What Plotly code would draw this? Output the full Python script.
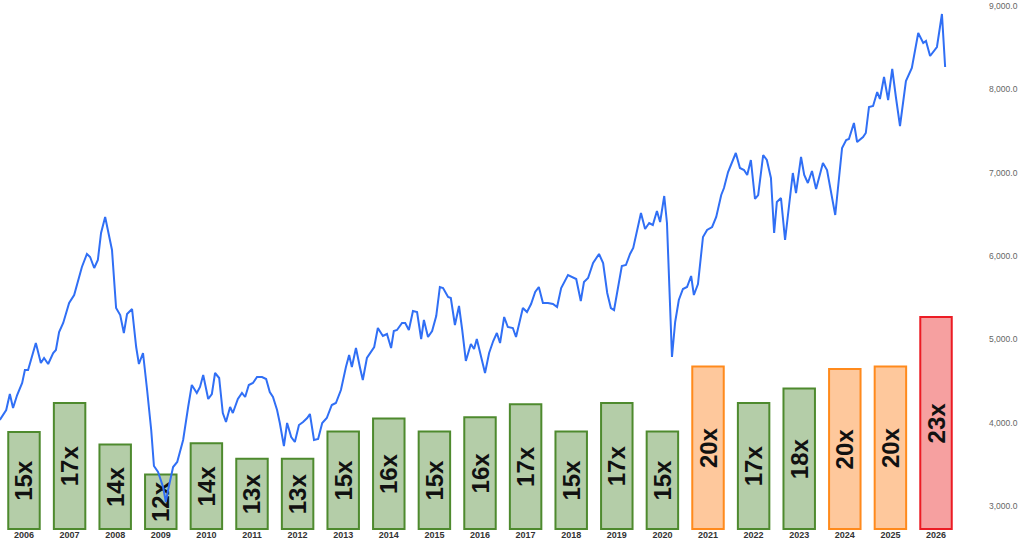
import plotly.graph_objects as go

# ---------------- data ----------------
bar_years = list(range(2006, 2027))
pe_values = [14.96, 17.2, 14.0, 11.7, 14.1, 12.9, 12.9, 15.0, 16.0, 15.0, 16.1,
             17.1, 15.0, 17.2, 15.0, 20.0, 17.2, 18.3, 19.8, 20.0, 23.8]
pe_labels = ["15x", "17x", "14x", "12x", "14x", "13x", "13x", "15x", "16x", "15x", "16x",
             "17x", "15x", "17x", "15x", "20x", "17x", "18x", "20x", "20x", "23x"]
pe_status = ["normal"] * 15 + ["high", "normal", "normal", "high", "high", "extreme"]
year_labels = [str(y) for y in bar_years]

line_years = [
    2005.47, 2005.61, 2005.69, 2005.76, 2005.85, 2005.96, 2006.02, 2006.09, 2006.26, 2006.37,
    2006.44, 2006.53, 2006.64, 2006.70, 2006.77, 2006.86, 2006.99, 2007.10, 2007.27, 2007.38,
    2007.45, 2007.54, 2007.62, 2007.69, 2007.78, 2007.93, 2008.02, 2008.11, 2008.19, 2008.26,
    2008.37, 2008.46, 2008.52, 2008.61, 2008.70, 2008.79, 2008.85, 2008.94, 2009.05, 2009.11,
    2009.16, 2009.27, 2009.36, 2009.42,
    2009.49, 2009.60, 2009.68, 2009.79, 2009.86, 2009.93, 2010.04, 2010.12, 2010.19, 2010.28,
    2010.36, 2010.43, 2010.52, 2010.58, 2010.69, 2010.78, 2010.85, 2010.93, 2011.02, 2011.11,
    2011.22, 2011.31, 2011.39, 2011.46, 2011.55, 2011.61, 2011.70, 2011.77, 2011.86, 2011.94,
    2012.03, 2012.12, 2012.21, 2012.27, 2012.36, 2012.45, 2012.54, 2012.64, 2012.75, 2012.84,
    2012.95, 2013.06, 2013.13, 2013.19, 2013.28, 2013.37, 2013.43, 2013.52, 2013.59,
    2013.68, 2013.76, 2013.87, 2013.96, 2014.05, 2014.11, 2014.18, 2014.29, 2014.36, 2014.44,
    2014.53, 2014.62, 2014.71, 2014.77, 2014.86, 2014.95, 2015.04, 2015.12, 2015.19, 2015.30,
    2015.36, 2015.45, 2015.54, 2015.61, 2015.69, 2015.80, 2015.87, 2015.93, 2016.02, 2016.11,
    2016.20, 2016.29, 2016.37, 2016.44, 2016.53, 2016.61, 2016.72, 2016.79, 2016.94, 2017.03,
    2017.12, 2017.21, 2017.29, 2017.38, 2017.49, 2017.60, 2017.69,
    2017.78, 2017.93, 2018.11, 2018.21, 2018.28, 2018.37, 2018.48, 2018.61, 2018.70, 2018.79,
    2018.87, 2018.94, 2019.03, 2019.11, 2019.20, 2019.29, 2019.36, 2019.53, 2019.62, 2019.71,
    2019.79, 2019.88, 2019.95, 2020.04, 2020.10, 2020.14, 2020.21, 2020.28, 2020.36, 2020.45,
    2020.54, 2020.63, 2020.69, 2020.78, 2020.89, 2020.98, 2021.09, 2021.18, 2021.29, 2021.35,
    2021.44, 2021.61,
    2021.70, 2021.79, 2021.86, 2021.94, 2022.03, 2022.10, 2022.21, 2022.29, 2022.38, 2022.45,
    2022.51, 2022.60, 2022.69, 2022.86, 2022.93, 2023.04, 2023.11, 2023.19, 2023.28, 2023.37,
    2023.52, 2023.61, 2023.79, 2023.94, 2024.03, 2024.09, 2024.20, 2024.27, 2024.40, 2024.46,
    2024.53, 2024.62, 2024.71, 2024.77, 2024.86, 2024.95, 2025.04, 2025.12, 2025.21, 2025.34,
    2025.39, 2025.47, 2025.61, 2025.72, 2025.78, 2025.87, 2026.02, 2026.13, 2026.20,
]
index_values = [
    4032, 4152, 4344, 4176, 4332, 4476, 4632, 4632, 4956, 4716,
    4776, 4704, 4836, 4872, 5088, 5196, 5436, 5532, 5868, 6024,
    5988, 5856, 5952, 6276, 6468, 6072, 5376, 5292, 5076, 5304,
    5364, 4908, 4704, 4836, 4392, 3912, 3480, 3408, 3228, 3048,
    3192, 3468, 3528, 3636,
    3792, 4188, 4452, 4356, 4428, 4572, 4284, 4344, 4596, 4536,
    4116, 4008, 4188, 4116, 4284, 4356, 4308, 4452, 4476, 4548,
    4548, 4524, 4368, 4308, 4152, 3996, 3720, 3996, 3828, 3768,
    3972, 4008, 4056, 4104, 3792, 3804, 3996, 4056, 4212, 4236,
    4392, 4668, 4812, 4668, 4896, 4656, 4512, 4776, 4836,
    4908, 5136, 5040, 5064, 4896, 5100, 5112, 5196, 5196, 5112,
    5340, 5328, 5004, 5232, 5028, 5100, 5280, 5628, 5616, 5508,
    5496, 5172, 5400, 5112, 4740, 4944, 4884, 5004, 4788, 4596,
    4836, 4980, 5076, 4956, 5268, 5148, 5136, 5028, 5376, 5328,
    5424, 5568, 5628, 5436, 5436, 5424, 5388,
    5616, 5772, 5724, 5460, 5688, 5736, 5916, 6024, 5916, 5556,
    5376, 5352, 5628, 5880, 5892, 6024, 6096, 6516, 6324, 6396,
    6372, 6540, 6408, 6720, 6396, 5832, 4788, 5208, 5472, 5604,
    5628, 5760, 5532, 5664, 6228, 6312, 6348, 6468, 6732, 6816,
    7008, 7236,
    7056, 7032, 6972, 7152, 6684, 6732, 7212, 7152, 6936, 6276,
    6648, 6696, 6192, 6996, 6756, 7188, 6972, 6876, 7020, 6804,
    7116, 7032, 6492, 7296, 7392, 7404, 7596, 7368, 7428, 7476,
    7788, 7800, 7968, 7884, 8148, 7872, 8244, 7908, 7560, 8100,
    8160, 8256, 8676, 8556, 8580, 8400, 8508, 8904, 8268,
]
index_ticks = [3000, 4000, 5000, 6000, 7000, 8000, 9000]

# ---------------- styles ----------------
PE_FLOOR = 7.5
fill_map = {"normal": "#b4cda8", "high": "#fec89c", "extreme": "#f6a0a0"}
edge_map = {"normal": "#4e8a2e", "high": "#ff8a1c", "extreme": "#ec1c24"}

fig = go.Figure()

fig.add_trace(go.Bar(
    x=bar_years,
    y=[p - PE_FLOOR for p in pe_values],
    base=PE_FLOOR,
    width=0.69,
    text=pe_labels,
    textposition="inside",
    insidetextanchor="middle",
    textangle=-90,
    constraintext="none",
    textfont=dict(family="Liberation Sans, Arial, sans-serif", size=24, color="#111111", weight="bold"),
    marker=dict(color=[fill_map[s] for s in pe_status],
                line=dict(color=[edge_map[s] for s in pe_status], width=2)),
    yaxis="y",
    showlegend=False,
    hoverinfo="skip",
))

fig.add_trace(go.Scatter(
    x=line_years,
    y=index_values,
    mode="lines",
    line=dict(color="#306ff5", width=2),
    yaxis="y2",
    showlegend=False,
))

fig.update_layout(
    width=1024,
    height=544,
    margin=dict(l=0, r=64, t=0, b=13),
    paper_bgcolor="white",
    plot_bgcolor="white",
    uniformtext=dict(minsize=24, mode="show"),
    xaxis=dict(
        range=[2005.474, 2026.526],
        tickvals=bar_years,
        ticktext=year_labels,
        tickfont=dict(family="Liberation Sans, Arial, sans-serif", size=9, color="#333333", weight="bold"),
        showgrid=False, zeroline=False, showline=False, ticks="",
        ticklabelstandoff=-3,
        automargin=False,
    ),
    yaxis=dict(
        range=[PE_FLOOR - 2 / 13, PE_FLOOR + 529 / 13],
        visible=False,
        showgrid=False, zeroline=False,
    ),
    yaxis2=dict(
        overlaying="y",
        side="right",
        range=[2700, 9072],
        tickvals=index_ticks,
        tickformat=",.1f",
        tickfont=dict(family="Liberation Sans, Arial, sans-serif", size=8.5, color="#666666"),
        showgrid=False, zeroline=False, showline=False, ticks="",
        ticklabelstandoff=28,
        automargin=False,
    ),
)

fig.write_html(
    "out.html",
    config={"displayModeBar": False},
    post_script="document.body.style.margin='0';document.body.style.overflow='hidden';",
)
